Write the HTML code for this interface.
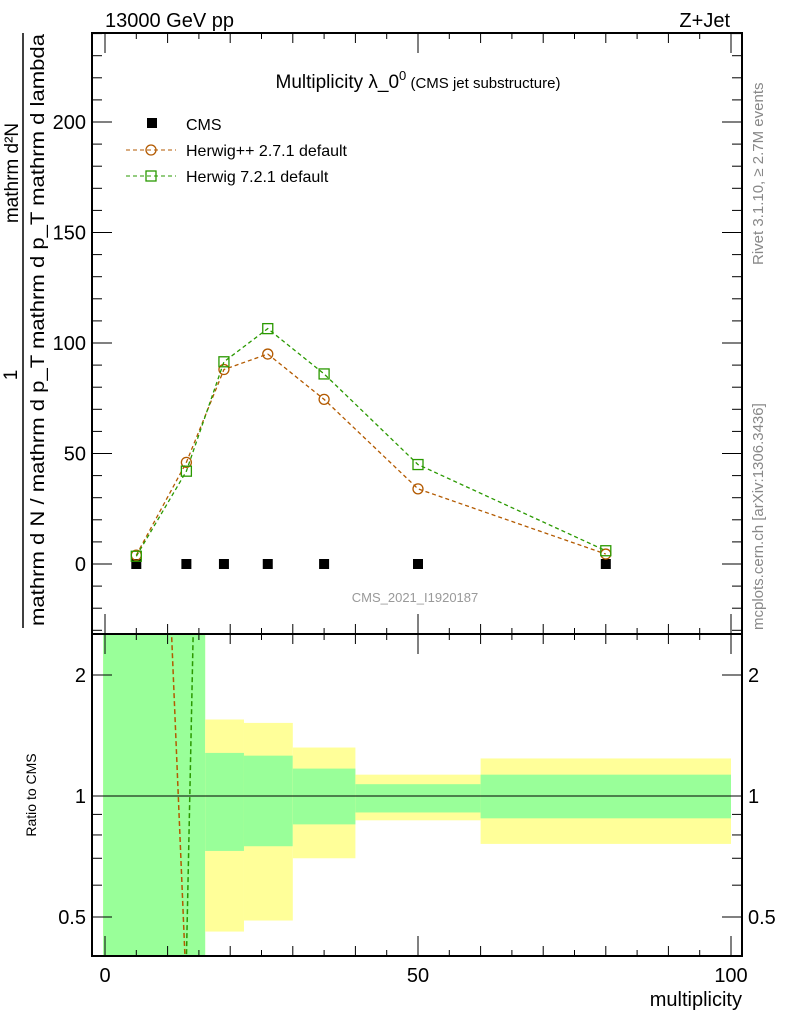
<!DOCTYPE html>
<html><head><meta charset="utf-8"><style>
body{margin:0;background:#fff}
svg{display:block;font-family:"Liberation Sans",sans-serif}
</style></head><body>
<svg id="c" width="786" height="1024" xmlns="http://www.w3.org/2000/svg">
<g id="ratio-bands"></g>
<g id="marks"></g>
<g id="axes"></g>
<text x="105" y="27" font-size="20">13000 GeV pp</text>
<text x="730" y="27" font-size="20" text-anchor="end">Z+Jet</text>
<text x="418" y="88" font-size="19" text-anchor="middle">Multiplicity λ_0<tspan dy="-8" font-size="13">0</tspan><tspan dy="8" font-size="15"> (CMS jet substructure)</tspan></text>
<text x="415" y="602" font-size="13" fill="#999" text-anchor="middle">CMS_2021_I1920187</text>
<text transform="translate(763,265) rotate(-90)" font-size="15" fill="#888">Rivet 3.1.10, ≥ 2.7M events</text>
<text transform="translate(763,630) rotate(-90)" font-size="15" fill="#888">mcplots.cern.ch [arXiv:1306.3436]</text>
<text transform="translate(18,173) rotate(-90)" font-size="19" text-anchor="middle">mathrm d²N</text>
<line x1="23" y1="33" x2="23" y2="628" stroke="#000" stroke-width="1.5"/>
<text transform="translate(17,375) rotate(-90)" font-size="19" text-anchor="middle">1</text>
<text transform="translate(44,626) rotate(-90)" font-size="19" textLength="592" lengthAdjust="spacingAndGlyphs">mathrm d N / mathrm d p_T mathrm d p_T mathrm d lambda</text>
<text transform="translate(36,795) rotate(-90)" font-size="14" text-anchor="middle">Ratio to CMS</text>
<text x="742" y="1006" font-size="20" text-anchor="end">multiplicity</text>
<g>
<rect x="147" y="118" width="10" height="10" fill="#000"/>
<text x="186" y="130" font-size="16">CMS</text>
<line x1="126" y1="150" x2="176" y2="150" stroke="#b35a00" stroke-dasharray="4,3"/>
<circle cx="151" cy="150" r="5" fill="none" stroke="#b35a00" stroke-width="1.3"/>
<text x="186" y="156" font-size="16">Herwig++ 2.7.1 default</text>
<line x1="126" y1="176" x2="176" y2="176" stroke="#2a9900" stroke-dasharray="4,3"/>
<rect x="146" y="171" width="10" height="10" fill="none" stroke="#2a9900" stroke-width="1.3"/>
<text x="186" y="182" font-size="16">Herwig 7.2.1 default</text>
</g>
</svg>
<script>
const xVals=[5,13,19,26,35,50,80];
const cmsVals=[0,0,0,0,0,0,0];
const hppVals=[4,46,88,95,74.5,34,4.5];
const h7Vals=[3.5,42,91.5,106.5,86,45,6];
const binLo=[-0.3,16,22.2,30,40,60];
const binHi=[16,22.2,30,40,60,100];
const yelTop=[3,1.55,1.52,1.32,1.13,1.24];
const grnTop=[3,1.28,1.26,1.17,1.07,1.13];
const grnBot=[0.3,0.73,0.75,0.85,0.91,0.88];
const yelBot=[0.3,0.46,0.49,0.70,0.87,0.76];
const hppRatioX=[10.6,12.8];
const hppRatioY=[2.6,0.39];
const h7RatioX=[14.1,13.0];
const h7RatioY=[2.6,0.39];
const mainTicks=[0,50,100,150,200];
const ratioTicks=[0.5,1,2];
const xTicks=[0,50,100];

const L=92,R=742,T=33,MB=634,RB=956;
const X=v=>105+(v-0)*6.26;
const Y=v=>564-v*2.21;
const RY=v=>796-Math.log2(v)*121;
const NS='http://www.w3.org/2000/svg';
function mk(p,t,a){const e=document.createElementNS(NS,t);for(const k in a)e.setAttribute(k,a[k]);p.appendChild(e);return e;}
const bands=document.getElementById('ratio-bands'),marks=document.getElementById('marks'),axes=document.getElementById('axes');
const cl=v=>Math.max(RY(2.53),Math.min(RB,v));
for(let i=0;i<binLo.length;i++){
  const x1=Math.max(L,X(binLo[i])),x2=X(binHi[i]);
  let r=mk(bands,'rect',{x:x1,y:cl(RY(yelTop[i])),width:x2-x1,height:cl(RY(yelBot[i]))-cl(RY(yelTop[i])),fill:'#ffff99'});
  
  
  r=mk(bands,'rect',{x:x1,y:cl(RY(grnTop[i])),width:x2-x1,height:cl(RY(grnBot[i]))-cl(RY(grnTop[i])),fill:'#99ff99'});
  
  
}
mk(marks,'clipPath',{id:'rc'});
mk(document.getElementById('rc'),'rect',{x:L,y:MB,width:R-L,height:RB-MB});
function rline(xs,ys,col,name){
  const p=mk(marks,'polyline',{points:xs.map((x,i)=>X(x)+','+RY(ys[i])).join(' '),fill:'none',stroke:col,'stroke-width':1.5,'stroke-dasharray':'5,3','clip-path':'url(#rc)'});
  
  
}
rline(hppRatioX,hppRatioY,'#b35a00','ratio-herwigpp');
rline(h7RatioX,h7RatioY,'#2a9900','ratio-herwig7');
let l=mk(marks,'line',{x1:L,x2:R,y1:RY(1),y2:RY(1),stroke:'#000','stroke-width':1});


function series(vals,col,shape,name){
  const p=mk(marks,'polyline',{points:xVals.map((x,i)=>X(x)+','+Y(vals[i])).join(' '),fill:'none',stroke:col,'stroke-width':1.3,'stroke-dasharray':'4,3'});
  
  
  xVals.forEach((x,i)=>{
    let m;
    if(shape==='c')m=mk(marks,'circle',{cx:X(x),cy:Y(vals[i]),r:5,fill:'none',stroke:col,'stroke-width':1.3});
    else m=mk(marks,'rect',{x:X(x)-5,y:Y(vals[i])-5,width:10,height:10,fill:'none',stroke:col,'stroke-width':1.3});
    
    
  });
}
xVals.forEach((x,i)=>{
  const m=mk(marks,'rect',{x:X(x)-5,y:Y(cmsVals[i])-5,width:10,height:10,fill:'#000'});
  
  
});
series(hppVals,'#b35a00','c','herwigpp');
series(h7Vals,'#2a9900','s','herwig7');
let f=mk(axes,'rect',{x:L,y:T,width:R-L,height:MB-T,fill:'none',stroke:'#000','stroke-width':2});


f=mk(axes,'rect',{x:L,y:MB,width:R-L,height:RB-MB,fill:'none',stroke:'#000','stroke-width':2});


for(let v=-30;v<=240;v+=10){const y=Y(v);if(y<T||y>MB)continue;const big=v%50===0;const w=big?20:10;
  mk(axes,'line',{x1:L,x2:L+w,y1:y,y2:y,stroke:'#000'});mk(axes,'line',{x1:R-w,x2:R,y1:y,y2:y,stroke:'#000'});}
mainTicks.forEach(v=>{const t=mk(axes,'text',{x:L-6,y:Y(v)+7,'font-size':20,'text-anchor':'end'});t.textContent=v;
  });
[0.4,0.5,0.6,0.7,0.8,0.9,1,2].forEach(v=>{const y=RY(v);const big=ratioTicks.includes(v);const w=big?20:10;
  mk(axes,'line',{x1:L,x2:L+w,y1:y,y2:y,stroke:'#000'});mk(axes,'line',{x1:R-w,x2:R,y1:y,y2:y,stroke:'#000'});});
ratioTicks.forEach(v=>{let t=mk(axes,'text',{x:L-6,y:RY(v)+7,'font-size':20,'text-anchor':'end'});t.textContent=v;
  
  t=mk(axes,'text',{x:R+6,y:RY(v)+7,'font-size':20});t.textContent=v;
  });
for(let v=0;v<=100;v+=5){const x=X(v);const big=v%50===0;const mid=v%10===0;const h=big?20:(mid?10:6);
  [[T,1],[MB,-1],[MB,1],[RB,-1]].forEach(([y0,d])=>mk(axes,'line',{x1:x,x2:x,y1:y0,y2:y0+d*h,stroke:'#000'}));}
xTicks.forEach(v=>{const t=mk(axes,'text',{x:X(v),y:982,'font-size':20,'text-anchor':'middle'});t.textContent=v;
  });
</script>
</body></html>
